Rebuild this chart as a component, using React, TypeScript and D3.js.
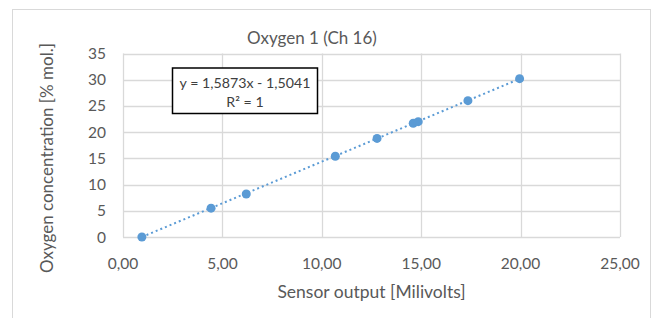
import * as d3 from 'd3';
import { useEffect, useRef } from 'react';

// calibration points
const sensorMv = [0.95, 4.43, 6.2, 10.68, 12.78, 14.6, 14.85, 17.35, 19.95];
const oxygenPct = [0, 5.5, 8.2, 15.4, 18.8, 21.7, 22.0, 26.0, 30.2];
const xTicks = [0, 5, 10, 15, 20, 25];
const yTicks = [0, 5, 10, 15, 20, 25, 30, 35];
const slope = 1.5873;
const intercept = -1.5041;

const W = 654;
const H = 318;
const FONT = 'Lato, "Open Sans", sans-serif';
const BLUE = '#5B9BD5';
const GRID = '#D9D9D9';
const TEXT = '#595959';

export default function App() {
  const ref = useRef<SVGSVGElement>(null);

  useEffect(() => {
    const svg = d3.select(ref.current);
    svg.selectAll('*').remove();

    const margin = { top: 53.5, right: 34, bottom: 81, left: 123 };
    const x = d3.scaleLinear().domain([0, 25]).range([margin.left, W - margin.right]);
    const y = d3.scaleLinear().domain([0, 35]).range([H - margin.bottom, margin.top]);

    svg.append('rect')
      .attr('width', W).attr('height', H).attr('fill', '#fff');

    // chart frame
    svg.append('rect')
      .attr('x', 12.5).attr('y', 9.5)
      .attr('width', 638).attr('height', 330)
      .attr('fill', 'none').attr('stroke', GRID);

    // gridlines
    svg.append('g').selectAll('line.h')
      .data(yTicks).enter().append('line')
      .attr('x1', x(0)).attr('x2', x(25))
      .attr('y1', d => Math.round(y(d)) + 0.5).attr('y2', d => Math.round(y(d)) + 0.5)
      .attr('stroke', GRID).attr('stroke-width', 1.3);

    svg.append('g').selectAll('line.v')
      .data(xTicks).enter().append('line')
      .attr('y1', y(0)).attr('y2', y(35))
      .attr('x1', d => Math.round(x(d)) + 0.5).attr('x2', d => Math.round(x(d)) + 0.5)
      .attr('stroke', GRID).attr('stroke-width', 1.3);

    // tick labels
    svg.append('g').selectAll('text')
      .data(yTicks).enter().append('text')
      .attr('x', 106).attr('y', d => y(d) + 5.5)
      .attr('text-anchor', 'end')
      .attr('font-family', FONT).attr('font-size', 15.5).attr('fill', TEXT)
      .text(d => d);

    const fmt = (v: number) => v.toFixed(2).replace('.', ',');
    svg.append('g').selectAll('text')
      .data(xTicks).enter().append('text')
      .attr('x', d => x(d)).attr('y', 269)
      .attr('text-anchor', 'middle')
      .attr('font-family', FONT).attr('font-size', 15.5).attr('fill', TEXT)
      .text(d => fmt(d));

    // titles
    svg.append('text')
      .attr('x', 312).attr('y', 44)
      .attr('text-anchor', 'middle')
      .attr('font-family', FONT).attr('font-size', 17).attr('fill', TEXT)
      .text('Oxygen 1 (Ch 16)');

    svg.append('text')
      .attr('x', (x(0) + x(25)) / 2).attr('y', 297.5)
      .attr('text-anchor', 'middle')
      .attr('font-family', FONT).attr('font-size', 17.5).attr('fill', TEXT)
      .text('Sensor output [Milivolts]');

    svg.append('text')
      .attr('transform', `translate(53,158) rotate(-90)`)
      .attr('text-anchor', 'middle')
      .attr('font-family', FONT).attr('font-size', 17).attr('fill', TEXT)
      .text('Oxygen concentration [% mol.]');

    // linear trendline
    const x0 = d3.min(sensorMv) as number;
    const x1 = d3.max(sensorMv) as number;
    svg.append('line')
      .attr('x1', x(x0)).attr('y1', y(slope * x0 + intercept))
      .attr('x2', x(x1)).attr('y2', y(slope * x1 + intercept))
      .attr('stroke', BLUE).attr('stroke-width', 2)
      .attr('stroke-dasharray', '2 3');

    // points
    svg.append('g').selectAll('circle')
      .data(sensorMv.map((v, i) => [v, oxygenPct[i]]))
      .enter().append('circle')
      .attr('cx', d => x(d[0])).attr('cy', d => y(d[1]))
      .attr('r', 4.5)
      .attr('fill', BLUE);

    // equation label
    const box = svg.append('g');
    box.append('rect')
      .attr('x', 172.5).attr('y', 68)
      .attr('width', 145).attr('height', 45.5)
      .attr('fill', '#fff').attr('stroke', '#000').attr('stroke-width', 1.5);
    box.append('text')
      .attr('x', 245).attr('y', 88)
      .attr('text-anchor', 'middle')
      .attr('font-family', FONT).attr('font-size', 14.2).attr('fill', '#404040')
      .text('y = 1,5873x - 1,5041');
    box.append('text')
      .attr('x', 245).attr('y', 107)
      .attr('text-anchor', 'middle')
      .attr('font-family', FONT).attr('font-size', 14.2).attr('fill', '#404040')
      .text('R² = 1');
  }, []);

  return (
    <svg
      ref={ref}
      width={W}
      height={H}
      style={{ position: 'absolute', left: 0, top: 0 }}
    />
  );
}
